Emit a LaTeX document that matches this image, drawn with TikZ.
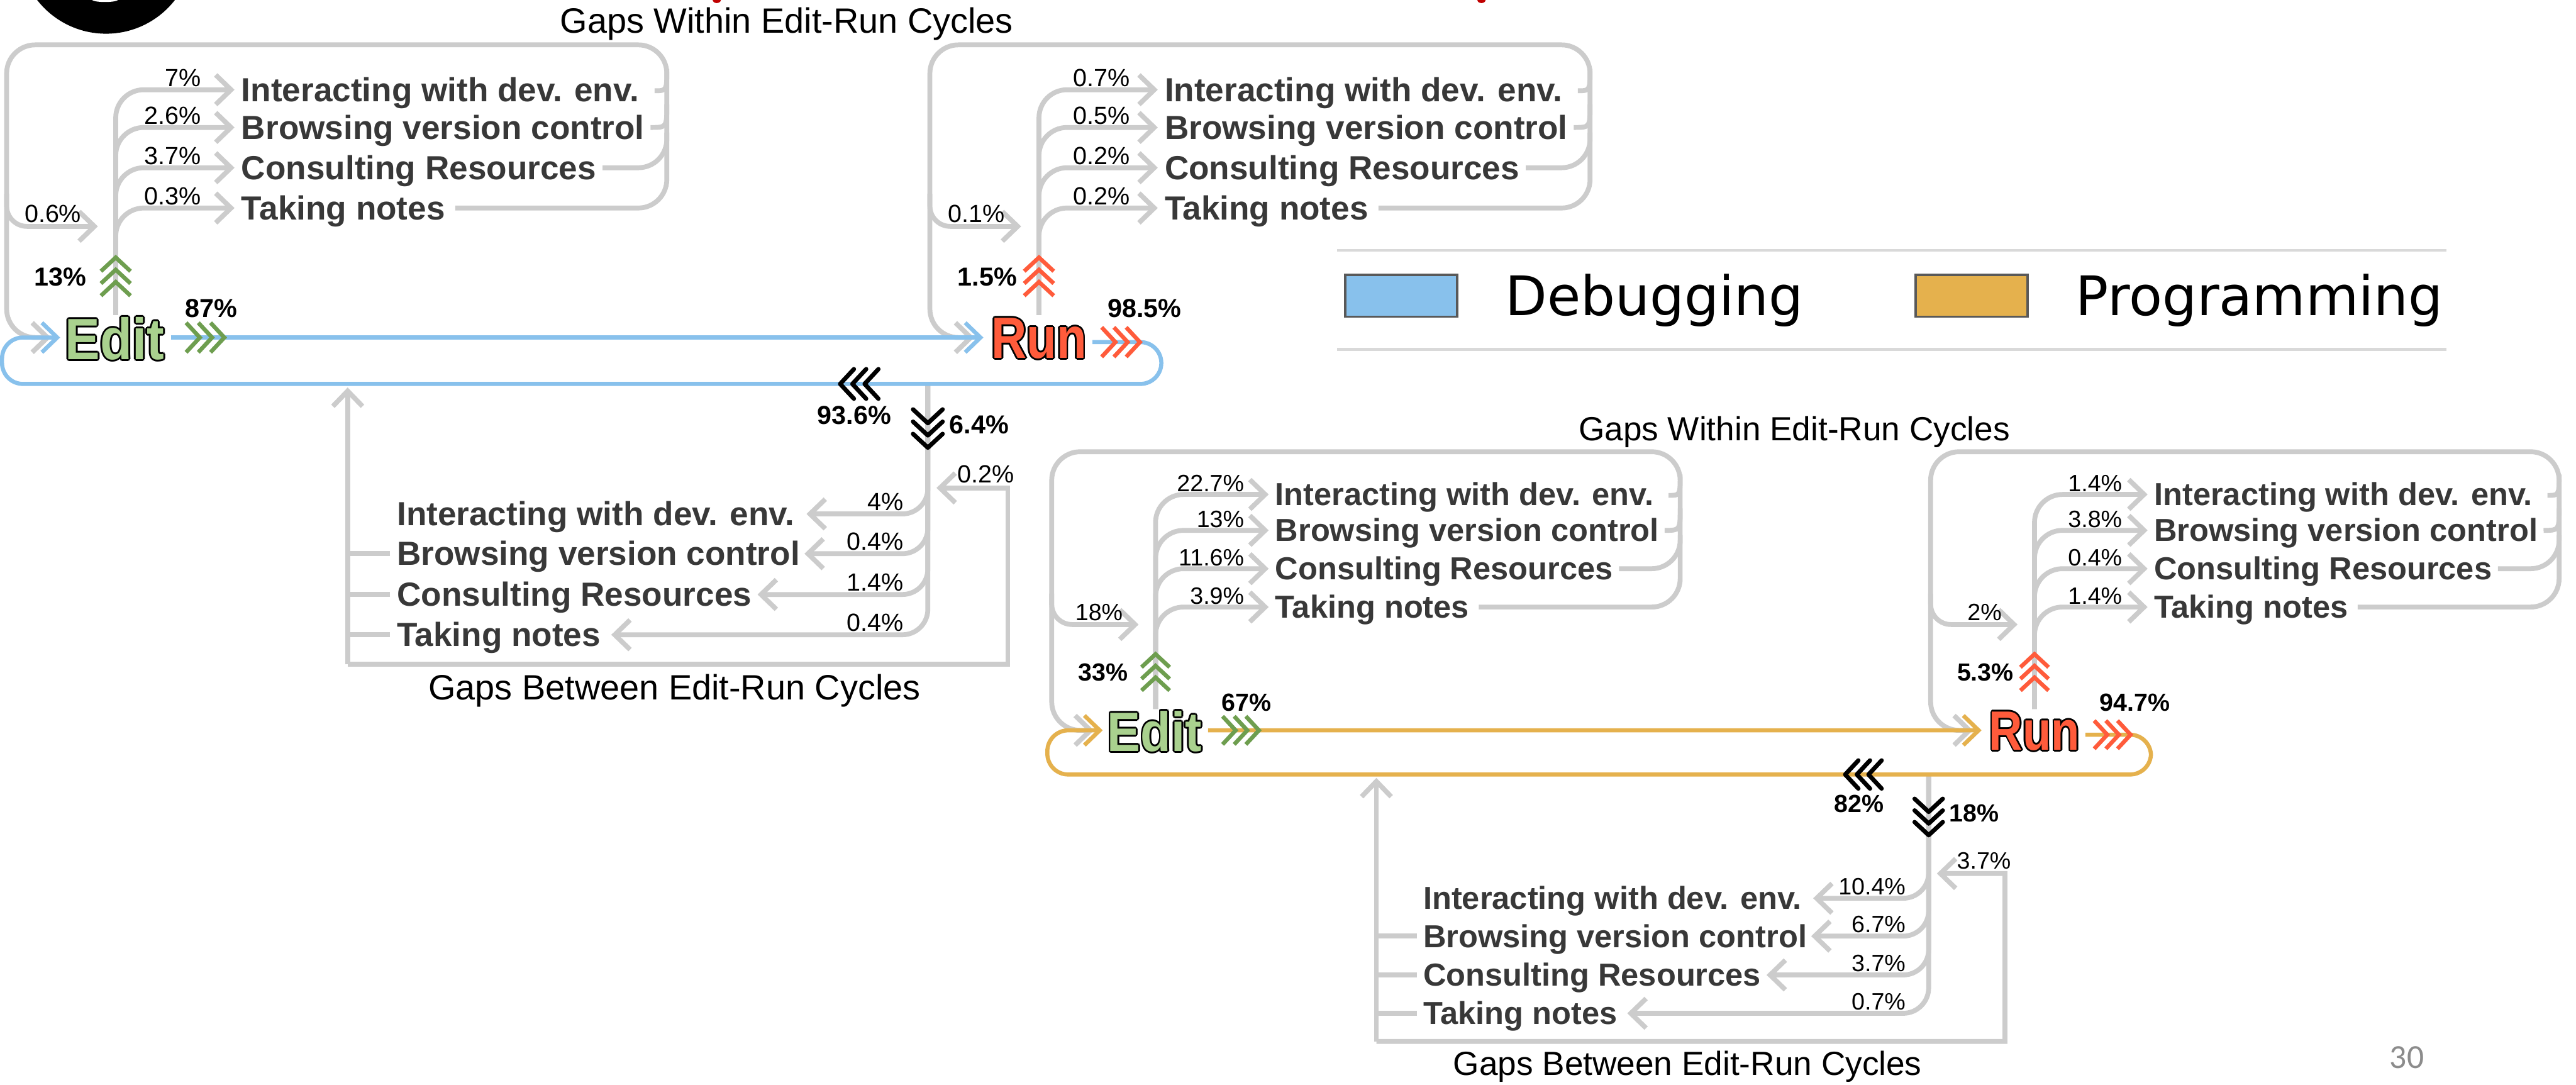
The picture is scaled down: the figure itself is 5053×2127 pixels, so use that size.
\documentclass[tikz,border=0pt]{standalone}
\usepackage{fontspec}
\setmainfont{Liberation Sans}
\newfontfamily\dejavu{DejaVu Sans}
\newfontfamily\carl{Carlito}
\usetikzlibrary{arrows.meta}
\definecolor{glc}{HTML}{CCCCCC}
\definecolor{itc}{HTML}{383838}
\definecolor{dbg}{HTML}{88C1EC}
\definecolor{prg}{HTML}{E5B14D}
\definecolor{grn}{HTML}{6E9E4F}
\definecolor{edf}{HTML}{A9D18E}
\definecolor{rnf}{HTML}{FF5B3B}
\definecolor{legl}{HTML}{D9D9D9}
\definecolor{boxb}{HTML}{595959}
\definecolor{pgnum}{HTML}{8C8C8C}
\definecolor{dred}{HTML}{C00000}
\newcommand\outl[2]{\leavevmode
 \rlap{\kern-1.1pt\textcolor{black}{#2}}%
 \rlap{\kern1.1pt\textcolor{black}{#2}}%
 \rlap{\raisebox{1.1pt}{\textcolor{black}{#2}}}%
 \rlap{\raisebox{-1.1pt}{\textcolor{black}{#2}}}%
 \rlap{\kern-0.8pt\raisebox{0.8pt}{\textcolor{black}{#2}}}%
 \rlap{\kern0.8pt\raisebox{0.8pt}{\textcolor{black}{#2}}}%
 \rlap{\kern-0.8pt\raisebox{-0.8pt}{\textcolor{black}{#2}}}%
 \rlap{\kern0.8pt\raisebox{-0.8pt}{\textcolor{black}{#2}}}%
 \textcolor{#1}{#2}}
\tikzset{
 gline/.style={draw=glc, line width=0.95mm},
 cline/.style={line width=0.8mm},
 garr/.style={-{Straight Barb[length=3mm,width=5.8mm]}},
 item/.style={font=\fontsize{18.64}{20}\selectfont\bfseries, text=itc, inner sep=0, anchor=base west},
 pct/.style={font=\fontsize{13.86}{15}\selectfont, inner sep=0, anchor=base east},
 bpct/.style={font=\fontsize{14.5}{16}\selectfont\bfseries, inner sep=0},
 ttl/.style={font=\fontsize{19.6}{21}\selectfont, inner sep=0, anchor=base},
 chev/.pic={\draw (-75,-29) -- (-48,0) -- (-75,29) (-51,-29) -- (-24,0) -- (-51,29) (-27,-29) -- (0,0) -- (-27,29);},
 chevc/.style={line width=0.8mm},
 chevk/.style={line width=0.85mm, line cap=round, line join=round, color=black},
}
\newcommand\withinblk[9]{%
 \node[item] (#1i1) at (473,199) {Interacting with dev. env.};
 \node[item] (#1i2) at (473,273) {Browsing version control};
 \node[item] (#1i3) at (473,352) {Consulting Resources};
 \node[item] (#1i4) at (473,431) {Taking notes};
 \coordinate (#1s0) at (227,618);
 \coordinate (#1t1) at (460,176);
 \coordinate (#1t2) at (460,250);
 \coordinate (#1t3) at (460,329);
 \coordinate (#1t4) at (460,408);
 \coordinate (#1side) at (192,444);
 \coordinate (#1in) at (100,662);
 \foreach \k in {1,...,4} \draw[gline,garr,rounded corners=5.5mm] (#1s0) |- (#1t\k);
 \draw[gline,garr,rounded corners=5.6mm] (893,408) -- (1308,408) -- (1308,88) -- (13,88) -- (13,662) -- (#1in);
 \draw[gline,rounded corners=5.6mm] (1182,329) -- (1308,329) -- (1308,260);
 \draw[gline] (1276,250) .. controls (1308,250) .. (1308,205);
 \draw[gline] (1284,178) .. controls (1308,178) .. (1308,135);
 \draw[gline,garr,rounded corners=4mm] (13,380) |- (#1side);
 \node[pct] (#1p1) at (#2,170) {#3};
 \node[pct] (#1p2) at (#2,244) {#4};
 \node[pct] (#1p3) at (#2,323) {#5};
 \node[pct] (#1p4) at (#2,402) {#6};
 \node[pct] (#1ps) at (160,436) {#7};
 \node[bpct,anchor=west] (#1pst) at (67,543) {#8};
 \pic[chevc,color=#9,rotate=90] at (227,505) {chev};
}
\newcommand\panel[1]{%
 \node[ttl] (#1tw) at (1543,65) {Gaps Within Edit-Run Cycles};
 \withinblk{#1E}{\ePR}{\eA}{\eB}{\eC}{\eD}{\eS}{\eT}{grn}
 \begin{scope}[shift={(1811,0)}]
  \withinblk{#1R}{\rPR}{\rA}{\rB}{\rC}{\rD}{\rS}{\rT}{rnf}
 \end{scope}
 % between block
 \node[item] (#1b1) at (778,1031) {Interacting with dev. env.};
 \node[item] (#1b2) at (778,1109) {Browsing version control};
 \node[item] (#1b3) at (778,1189) {Consulting Resources};
 \node[item] (#1b4) at (778,1268) {Taking notes};
 \coordinate (#1bv) at (1820,753);
 \coordinate (#1bt1) at (1582,1008);
 \coordinate (#1bt2) at (1578,1086);
 \coordinate (#1bt3) at (1486,1166);
 \coordinate (#1bt4) at (1199,1245);
 \foreach \k in {1,...,4} \draw[gline,garr,rounded corners=5mm] (#1bv) |- (#1bt\k);
 \coordinate (#1bl) at (682,1303);
 \coordinate (#1up) at (682,760);
 \coordinate (#1ret) at (1837,957);
 \draw[gline,garr] (#1bl) -- (#1up);
 \draw[gline] (765,1086) -- (682,1086);
 \draw[gline] (765,1166) -- (682,1166);
 \draw[gline] (765,1245) -- (682,1245);
 \draw[gline,garr] (#1bl) -- (1977,1303) -- (1977,957) -- (#1ret);
 \node[pct] (#1bp1) at (1773,1001) {\bA};
 \node[pct] (#1bp2) at (1773,1079) {\bB};
 \node[pct] (#1bp3) at (1773,1159) {\bC};
 \node[pct] (#1bp4) at (1773,1238) {\bD};
 \node[pct] (#1bpr) at (1990,947) {\bR};
 \node[ttl] (#1tb) at (1323,1372) {Gaps Between Edit-Run Cycles};
 % coloured cycle
 \coordinate (#1cin) at (118,662);
 \coordinate (#1rin) at (1929,662);
 \coordinate (#1out) at (2143,671);
 \draw[cline,draw=\lc,garr] (335,662) -- (#1rin);
 \draw[cline,draw=\lc,garr,rounded corners=4.1mm] (#1out) -- (2278,671) -- (2278,753) -- (4,753) -- (4,662) -- (#1cin);
 \node[inner sep=0] (#1edit) at (225,664) {\scalebox{0.9}[1]{\fontsize{32.5}{33}\selectfont\bfseries\outl{edf}{Edit}}};
 \node[inner sep=0] (#1run) at (2038,664) {\scalebox{0.84}[1]{\fontsize{32.5}{33}\selectfont\bfseries\outl{rnf}{Run}}};
 \pic[chevc,color=grn] at (440,662) {chev};
 \pic[chevc,color=rnf] at (2236,671) {chev};
 \node[bpct,anchor=west] (#1ef) at (363,605) {\eF};
 \node[bpct,anchor=west] (#1rf) at (2172,605) {\rF};
 \pic[chevk,rotate=180] at (1648,753) {chev};
 \pic[chevk,rotate=-90] at (1820,878) {chev};
 \node[bpct] (#1bl9) at (1676,814) {\bL};
 \node[bpct,anchor=west] (#1bd9) at (1862,833) {\bDn};
}
\begin{document}
\begin{tikzpicture}[x=0.01cm,y=-0.01cm]
\useasboundingbox (0,0) rectangle (5053,2127);
\fill[white] (0,0) rectangle (5053,2127);
% cut-off badge and title fragments
\fill[black] (208,-105) circle[radius=1.71cm];
\fill[white] (206,-1) ellipse[x radius=0.26cm, y radius=0.05cm];
\fill[dred] (1406,0) ellipse[x radius=0.08cm, y radius=0.06cm];
\fill[dred] (2906,0) ellipse[x radius=0.08cm, y radius=0.06cm];
% debugging panel
\def\lc{dbg}\def\ePR{395}\def\rPR{406}
\def\eA{7\%}\def\eB{2.6\%}\def\eC{3.7\%}\def\eD{0.3\%}\def\eS{0.6\%}\def\eT{13\%}\def\eF{87\%}
\def\rA{0.7\%}\def\rB{0.5\%}\def\rC{0.2\%}\def\rD{0.2\%}\def\rS{0.1\%}\def\rT{1.5\%}\def\rF{98.5\%}
\def\bA{4\%}\def\bB{0.4\%}\def\bC{1.4\%}\def\bD{0.4\%}\def\bR{0.2\%}\def\bL{93.6\%}\def\bDn{6.4\%}
\panel{d}
% programming panel
\def\lc{prg}\def\ePR{410}\def\rPR{408}
\def\eA{22.7\%}\def\eB{13\%}\def\eC{11.6\%}\def\eD{3.9\%}\def\eS{18\%}\def\eT{33\%}\def\eF{67\%}
\def\rA{1.4\%}\def\rB{3.8\%}\def\rC{0.4\%}\def\rD{1.4\%}\def\rS{2\%}\def\rT{5.3\%}\def\rF{94.7\%}
\def\bA{10.4\%}\def\bB{6.7\%}\def\bC{3.7\%}\def\bD{0.7\%}\def\bR{3.7\%}\def\bL{82\%}\def\bDn{18\%}
\begin{scope}[shift={(2050.6,802.2)},scale=0.952,transform shape]
\panel{p}
\end{scope}
% legend
\draw[legl,line width=0.6mm] (2623,491) -- (4799,491);
\draw[legl,line width=0.6mm] (2623,685) -- (4799,685);
\node[draw=boxb,fill=dbg,line width=0.45mm,minimum width=2.19cm,minimum height=0.82cm,inner sep=0] (legD) at (2748.5,580) {};
\node[draw=boxb,fill=prg,line width=0.45mm,minimum width=2.19cm,minimum height=0.82cm,inner sep=0] (legP) at (3867.5,580) {};
\node[font=\dejavu\fontsize{30.4}{32}\selectfont,inner sep=0,anchor=base west] (legDt) at (2952,619) {Debugging};
\node[font=\dejavu\fontsize{30.4}{32}\selectfont,inner sep=0,anchor=base west] (legPt) at (4071,619) {Programming};
\node[font=\carl\fontsize{18.8}{20}\selectfont,text=pgnum,inner sep=0,anchor=base west] (pg) at (4687,2095) {30};
\end{tikzpicture}
\end{document}
